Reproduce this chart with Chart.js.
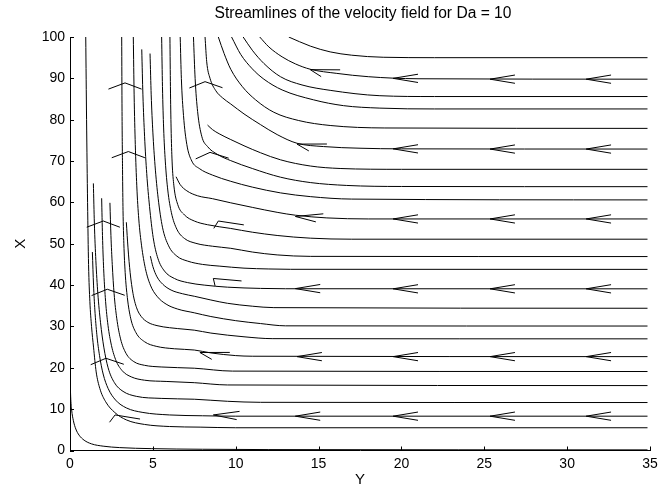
<!DOCTYPE html>
<html>
<head>
<meta charset="utf-8">
<title>Streamlines</title>
<script src="https://cdn.jsdelivr.net/npm/chart.js@4.4.1/dist/chart.umd.min.js"></script>
<style>
  body { margin: 0; background: #fff; }
  canvas { display: block; }
</style>
</head>
<body>
<canvas id="streams" width="669" height="489"></canvas>
<script>
// tick values: horizontal axis is labelled "Y", vertical axis "X"
const yTicks = [0, 5, 10, 15, 20, 25, 30, 35];
const xTicks = [0, 10, 20, 30, 40, 50, 60, 70, 80, 90, 100];
const titleText = 'Streamlines of the velocity field for Da = 10';

// streamlines, each point is [Y, X]
const bottomLine = [[0,18.7],[0.04,13],[0.1,9.8],[0.2,7.3],[0.35,5.2],[0.55,3.7],[0.85,2.5],[1.3,1.6],[2,1.05],[3,0.7],[4.9,0.45],[8,0.3],[12,0.22],[34.85,0.15]];
const line5_5 = [[0.95,100],[1.0,80],[1.06,60],[1.12,45],[1.2,36],[1.3,30],[1.42,25],[1.58,19],[1.8,15],[2.15,11.8],[2.7,9.2],[3.4,7.4],[4.5,6.3],[6,5.8],[7.85,5.65],[10,5.5],[34.85,5.5]];
const line8_3 = [[1.35,48],[1.42,40],[1.5,34],[1.62,28],[1.78,23],[2.0,18.5],[2.3,15],[2.75,12.2],[3.4,10.3],[4.4,9.2],[6,8.6],[8,8.4],[10,8.3],[34.85,8.3]];
const line11_6 = [[1.41,64.6],[1.47,55],[1.56,46],[1.68,38],[1.84,31],[2.04,25],[2.3,20],[2.68,16.4],[3.2,14.3],[4,13.1],[5.5,12.6],[7.5,12.4],[9.5,11.9],[11.5,11.65],[34.85,11.6]];
const line15_7 = [[1.91,61],[1.96,52],[2.03,44],[2.13,37],[2.27,31],[2.47,26],[2.75,22],[3.15,19.3],[3.7,17.8],[4.5,17],[5.8,16.7],[7.5,16.4],[9.5,15.85],[34.85,15.7]];
const line19_1 = [[2.41,59.9],[2.47,52],[2.55,45],[2.66,38],[2.82,32],[3.05,27],[3.38,23.5],[3.85,21.5],[4.5,20.6],[5.5,20.2],[7.5,19.9],[9.8,19.2],[34.85,19.1]];
const line22_7 = [[3.12,100],[3.14,82],[3.17,68],[3.2,58],[3.25,50],[3.33,43],[3.46,37],[3.66,32],[3.98,28.5],[4.5,26.3],[5.2,25.2],[6.3,24.6],[7.5,24.3],[8.5,23.6],[10,22.95],[11,22.8],[34.85,22.7]];
const line27_0 = [[3.4,55.2],[3.5,49],[3.63,43],[3.8,38],[4.02,34.5],[4.3,32.4],[4.7,31],[5.25,30.2],[6,29.7],[7,29.3],[7.5,29.1],[8.5,28.4],[10.5,27.5],[12.2,27.05],[34.85,27]];
const line30_1 = [[3.82,100],[3.87,86],[3.94,74],[4.03,64],[4.15,56],[4.32,49.5],[4.55,44],[4.85,40],[5.25,37.3],[5.8,35.4],[6.5,34.2],[7.5,33.3],[8.5,32.4],[10,31.4],[11.5,30.7],[13,30.15],[34.85,30.1]];
const line34_4 = [[4.85,47],[5.0,44.5],[5.25,42],[5.6,40.2],[6.1,38.8],[6.8,37.9],[7.5,37.3],[8.5,36.4],[9.5,35.6],[11,34.9],[12.3,34.55],[34.85,34.4]];
const line39_1 = [[4.33,97],[4.4,86],[4.5,76],[4.63,67],[4.8,59],[5.02,51.5],[5.3,46.5],[5.7,43.4],[6.3,41.6],[7.1,40.6],[8.1,40],[9.5,39.5],[11.5,39.2],[13,39.12],[34.85,39.1]];
const line43_8 = [[4.83,96],[4.9,86],[5.0,77],[5.13,69],[5.32,61],[5.58,54],[5.95,49.5],[6.45,47],[7.1,45.8],[8,45],[9,44.6],[10.5,44.1],[12,43.9],[13.3,43.82],[34.85,43.8]];
const line46_9 = [[5.53,100],[5.58,88],[5.65,78],[5.75,70],[5.9,63],[6.12,57.5],[6.45,53.5],[6.9,51.3],[7.6,50.1],[8.6,49.4],[9.7,48.9],[11,48],[12.5,47.3],[14.5,46.95],[34.85,46.9]];
const line51_1 = [[6.03,100],[6.06,88],[6.1,78],[6.16,70],[6.27,64],[6.5,59.5],[6.9,57],[7.5,55.5],[8.3,54.6],[9.7,53.7],[11,52.8],[12.5,52],[14.5,51.35],[17,51.1],[34.85,51.1]];
const line56_0 = [[6.4,66.2],[6.65,64.3],[7.05,62.8],[7.7,61.6],[8.6,60.9],[9.7,59.9],[11,58.8],[12.5,57.6],[13.6,56.9],[15.5,56.25],[18,56],[34.85,56]];
const line60_6 = [[6.65,100],[6.72,90],[6.85,81],[7.05,74],[7.35,70],[7.8,68.2],[8.6,66.6],[9.7,65.1],[11,63.7],[12.7,62.3],[14.5,61.4],[17,60.8],[34.85,60.6]];
const line63_8 = [[7.45,100],[7.55,90],[7.7,82],[7.95,76],[8.3,73.5],[8.9,71.6],[9.7,70.1],[11,68.2],[12.7,66.1],[14.5,64.8],[16.7,64.1],[20,63.85],[34.85,63.8]];
const line68_0 = [[8.3,78.7],[8.6,77.6],[9.0,76.6],[9.7,75.2],[10.5,73.7],[11.5,72.0],[12.7,70.3],[14.5,68.8],[16.3,68.2],[20,68],[34.85,68]];
const line72_9 = [[8.15,100],[8.25,94],[8.45,90],[8.8,87],[9.2,85.3],[9.7,83.8],[10.5,81.4],[11.5,78.8],[12.5,76.4],[13.7,74.3],[15.3,73.5],[17.5,73.1],[20,72.95],[34.85,72.9]];
const line77_9 = [[8.95,100],[9.3,96],[9.7,92.2],[10.4,88],[11.2,84.8],[12.3,81.8],[13.8,79.8],[15.7,78.6],[19,78],[34.85,77.9]];
const line82_6 = [[9.75,100],[10.3,95.8],[11.0,92.3],[11.7,89.8],[12.8,87.2],[14.7,84.8],[16.5,83.4],[18.7,82.8],[22,82.6],[34.85,82.6]];
const line85_6 = [[10.45,100],[11.0,96.8],[11.7,93.6],[12.7,90.4],[14,88.4],[15.7,87.1],[18.7,85.8],[22,85.6],[34.85,85.6]];
const line89_8 = [[11.45,100],[12.0,97.6],[12.8,95.2],[13.6,93.5],[14.5,92.2],[16.1,91.2],[18,90.4],[21,89.9],[34.85,89.8]];
const line95_0 = [[13.2,100],[14.5,97.8],[15.7,96.4],[17,95.6],[18.9,95.1],[22,95],[34.85,95]];

const streamlines = [bottomLine, line5_5, line8_3, line11_6, line15_7, line19_1, line22_7,
  line27_0, line30_1, line34_4, line39_1, line43_8, line46_9, line51_1, line56_0, line60_6,
  line63_8, line68_0, line72_9, line77_9, line82_6, line85_6, line89_8, line95_0];

// arrow heads: tip position [Y, X] and flow direction in degrees (data units)
const arrowY = [2.72, 2.17, 2.25, 2.01, 3.52, 3.32,
                8.65, 7.84, 8.65, 8.95, 8.45, 8.15,
                13.6, 13.7, 13.6, 13.6, 13.7, 14.5,
                19.5, 19.5, 19.5, 19.5, 19.5, 19.5,
                25.35, 25.35, 25.35, 25.35, 25.35, 25.35,
                31.15, 31.15, 31.15, 31.15, 31.15, 31.15];
const arrowX = [8.6, 22.3, 39.0, 55.5, 72.3, 88.9,
                8.6, 23.7, 41.6, 55.5, 72.1, 89.2,
                8.3, 22.7, 39.15, 56.6, 74.1, 92.1,
                8.3, 22.7, 39.1, 56.0, 72.95, 90.0,
                8.3, 22.7, 39.1, 56.0, 72.9, 89.8,
                8.3, 22.7, 39.1, 56.0, 72.9, 89.8];
const arrowDir = [113, 93, 92, 90, 90, 90,
                  175, 147, 127, 115, 95, 92,
                  180, 180, 180, 167, 147, 145,
                  180, 180, 180, 180, 180, 180,
                  180, 180, 180, 180, 180, 180,
                  180, 180, 180, 180, 180, 180];

const FONT = '"Liberation Sans", Arial, Helvetica, sans-serif';
const ARROW_LEN = 1.5;   // data units along the flow
const ARROW_HALF = 1.0;  // data units across

// arrow heads drawn in data space through the scales
const arrowHeads = {
  id: 'arrowHeads',
  afterDatasetsDraw(chart) {
    const ctx = chart.ctx;
    const sx = chart.scales.x, sy = chart.scales.y;
    ctx.save();
    ctx.strokeStyle = '#000';
    ctx.lineWidth = 1;
    for (let i = 0; i < arrowY.length; i++) {
      const a = arrowDir[i] * Math.PI / 180;
      const dx = Math.cos(a), dy = Math.sin(a);
      const backY = arrowY[i] - ARROW_LEN * dx;
      const backX = arrowX[i] - ARROW_LEN * dy;
      ctx.beginPath();
      ctx.moveTo(sx.getPixelForValue(backY - ARROW_HALF * dy), sy.getPixelForValue(backX + ARROW_HALF * dx));
      ctx.lineTo(sx.getPixelForValue(arrowY[i]), sy.getPixelForValue(arrowX[i]));
      ctx.lineTo(sx.getPixelForValue(backY + ARROW_HALF * dy), sy.getPixelForValue(backX - ARROW_HALF * dx));
      ctx.stroke();
    }
    ctx.restore();
  }
};

// small tick marks pointing into the plot + title centred over the axes, like matlab
const matlabBits = {
  id: 'matlabBits',
  afterDraw(chart) {
    const { ctx, chartArea } = chart;
    const sx = chart.scales.x, sy = chart.scales.y;
    ctx.save();
    ctx.strokeStyle = '#000';
    ctx.lineWidth = 1;
    ctx.beginPath();
    yTicks.forEach(v => {
      const px = Math.round(sx.getPixelForValue(v)) + 0.5;
      ctx.moveTo(px, chartArea.bottom);
      ctx.lineTo(px, chartArea.bottom - 4);
    });
    xTicks.forEach(v => {
      const py = Math.round(sy.getPixelForValue(v)) + 0.5;
      ctx.moveTo(chartArea.left, py);
      ctx.lineTo(chartArea.left + 4, py);
    });
    ctx.stroke();

    ctx.fillStyle = '#000';
    ctx.font = '15.6px ' + FONT;
    ctx.textAlign = 'center';
    ctx.textBaseline = 'middle';
    ctx.fillText(titleText, (chartArea.left + chartArea.right) / 2 + 3, 14);
    ctx.restore();
  }
};

const datasets = streamlines.map(pts => ({
  data: pts.map(p => ({ x: p[0], y: p[1] })),
  showLine: true,
  borderColor: '#000',
  borderWidth: 1,
  pointRadius: 0,
  cubicInterpolationMode: 'monotone',
  fill: false
}));

new Chart(document.getElementById('streams'), {
  type: 'scatter',
  data: { datasets: datasets },
  plugins: [arrowHeads, matlabBits],
  options: {
    responsive: false,
    animation: false,
    devicePixelRatio: 1,
    layout: { padding: { left: 0, right: 19, top: 37, bottom: 0 } },
    plugins: {
      legend: { display: false },
      tooltip: { enabled: false },
      title: { display: false }
    },
    scales: {
      x: {
        type: 'linear',
        min: 0, max: 35,
        afterBuildTicks: s => { s.ticks = yTicks.map(v => ({ value: v })); },
        afterFit: s => { s.height = 38.5; },
        grid: { display: false, drawTicks: false },
        border: { display: true, color: '#000', width: 1 },
        ticks: { color: '#000', font: { family: FONT, size: 14 }, padding: 5, maxRotation: 0 },
        title: { display: true, text: 'Y', color: '#000', font: { family: FONT, size: 15 }, padding: 0 }
      },
      y: {
        type: 'linear',
        min: 0, max: 100,
        afterBuildTicks: s => { s.ticks = xTicks.map(v => ({ value: v })); },
        afterFit: s => { s.width = 70; },
        grid: { display: false, drawTicks: false },
        border: { display: true, color: '#000', width: 1 },
        ticks: { color: '#000', font: { family: FONT, size: 14 }, padding: 5 },
        title: { display: true, text: 'X', color: '#000', font: { family: FONT, size: 15 }, padding: { top: 12, bottom: 0 } }
      }
    }
  }
});
</script>
</body>
</html>
